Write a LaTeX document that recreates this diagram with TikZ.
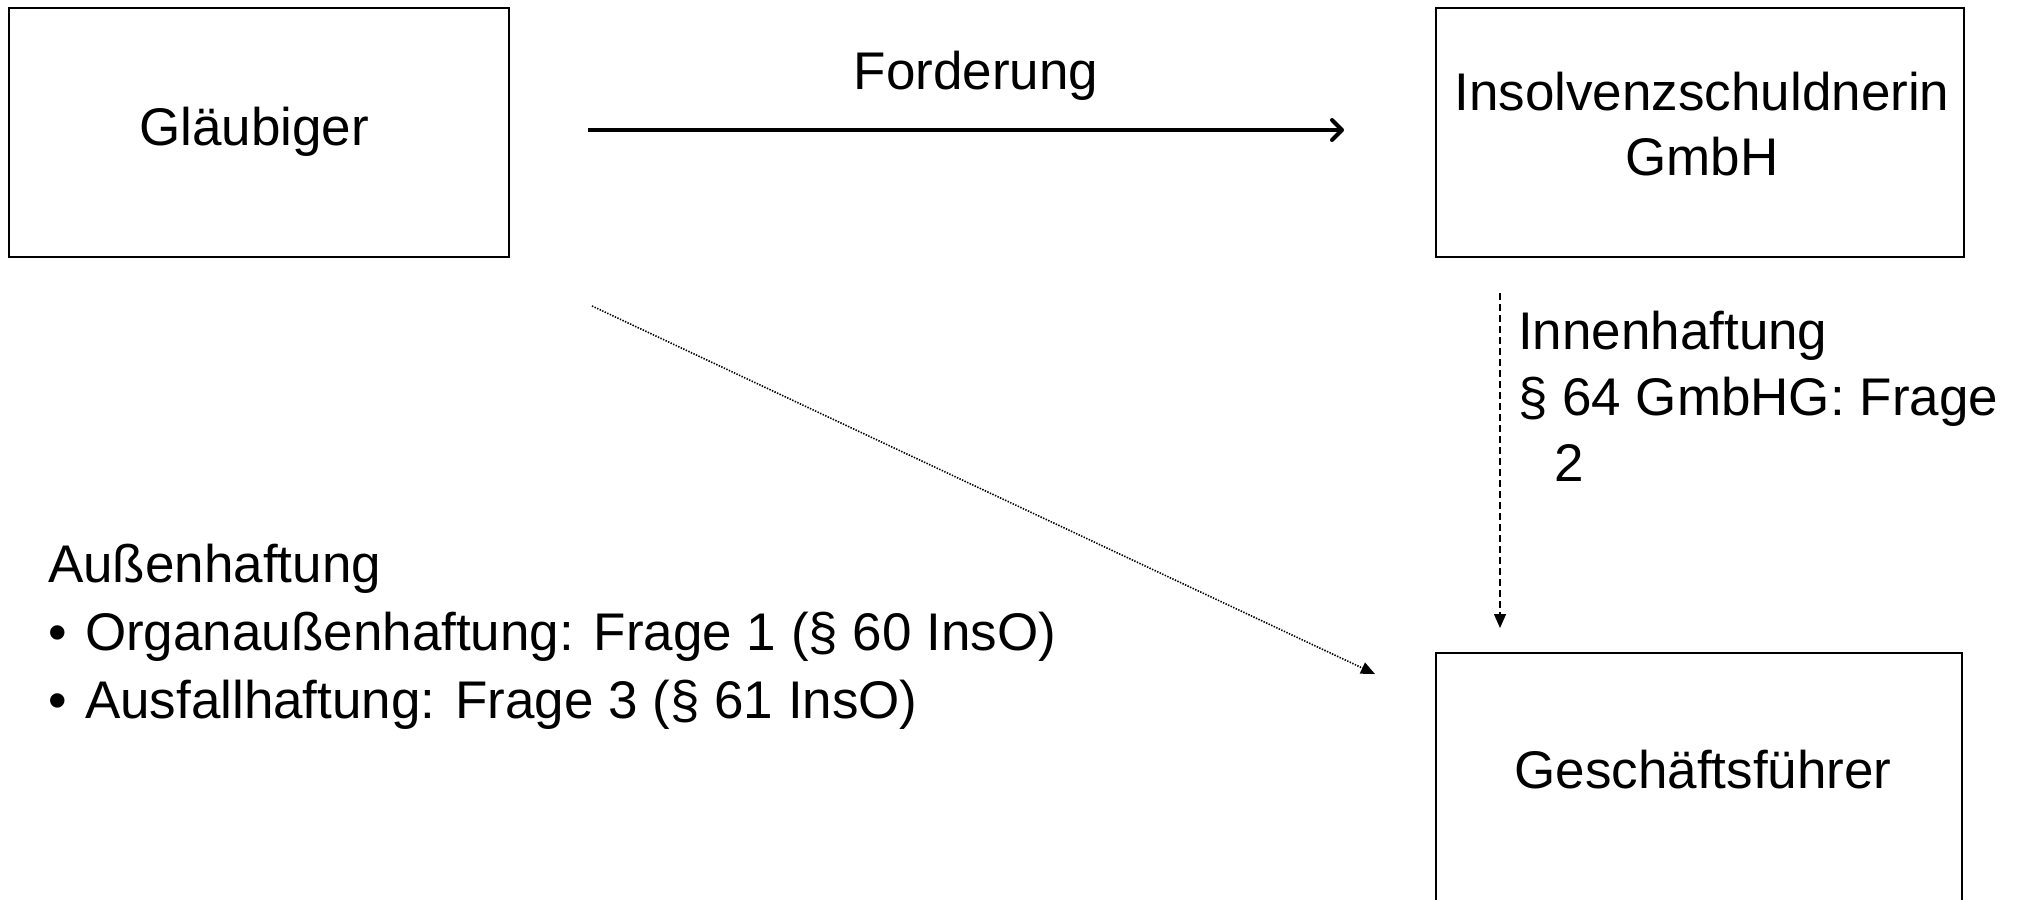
\documentclass[tikz,border=0pt]{standalone}
\usepackage{fontspec}
\setmainfont{Liberation Sans}
\usetikzlibrary{arrows.meta}
\begin{document}
\begin{tikzpicture}[x=0.5pt,y=-0.5pt,
  every node/.style={inner sep=0pt, outer sep=0pt, font=\fontsize{26.5pt}{33pt}\selectfont},
  box/.style={draw, line width=1.2pt, minimum width=#1, minimum height=124.5pt},
  txt/.style={anchor=base},
  solidarrow/.style={line width=2pt, -{Straight Barb[length=5pt,width=10pt,round]}},
  dasharrow/.style={line width=0.75pt, dash pattern=on 3.5pt off 2pt, -{Triangle[length=7pt,width=6pt]}},
  dotarrow/.style={line width=0.8pt, dash pattern=on 0.7pt off 0.7pt, -{Triangle[length=7pt,width=6pt]}}
]
\useasboundingbox (0,0) rectangle (2017,899);
% boxes
\node[box=250pt] (glaeub) at (259,132.5) {};
\node[box=264pt] (insolv) at (1700,132.5) {};
\node[box=263pt] (gf) at (1699,777.5) {};
% box texts
\node[txt] (glaeubtext) at (254,145) {Gläubiger};
\node[txt] (insolvtext1) at (1702,111) {Insolvenzschuldnerin};
\node[txt] (insolvtext2) at (1702,175) {GmbH};
\node[txt] (gftext) at (1703,788) {Geschäftsführer};
% connector end points
\coordinate (fA) at (588,130);
\coordinate (fB) at (1344,130);
\coordinate (iA) at (1500,293);
\coordinate (iB) at (1500,628);
\coordinate (aA) at (592,306);
\coordinate (aB) at (1375,674);
\draw[solidarrow] (fA) -- (fB);
\draw[dasharrow] (iA) -- (iB);
\draw[dotarrow] (aA) -- (aB);
% labels
\node[txt] (ford) at (976,90) {Forderung};
\node[anchor=base west] (innen1) at (1518,349) {Innenhaftung};
\node[anchor=base west] (innen2) at (1518,415) {§ 64 GmbHG: Frage};
\node[anchor=base west] (innen3) at (1554,481) {2};
\node[anchor=base west] (aus0) at (48,582) {Außenhaftung};
\node[anchor=base west] (aus1b) at (48,650) {•};
\node[anchor=base west] (aus1) at (85,650) {Organaußenhaftung: Frage 1 (§ 60 InsO)};
\node[anchor=base west] (aus2b) at (48,718) {•};
\node[anchor=base west] (aus2) at (85,718) {Ausfallhaftung: Frage 3 (§ 61 InsO)};
\end{tikzpicture}
\end{document}
